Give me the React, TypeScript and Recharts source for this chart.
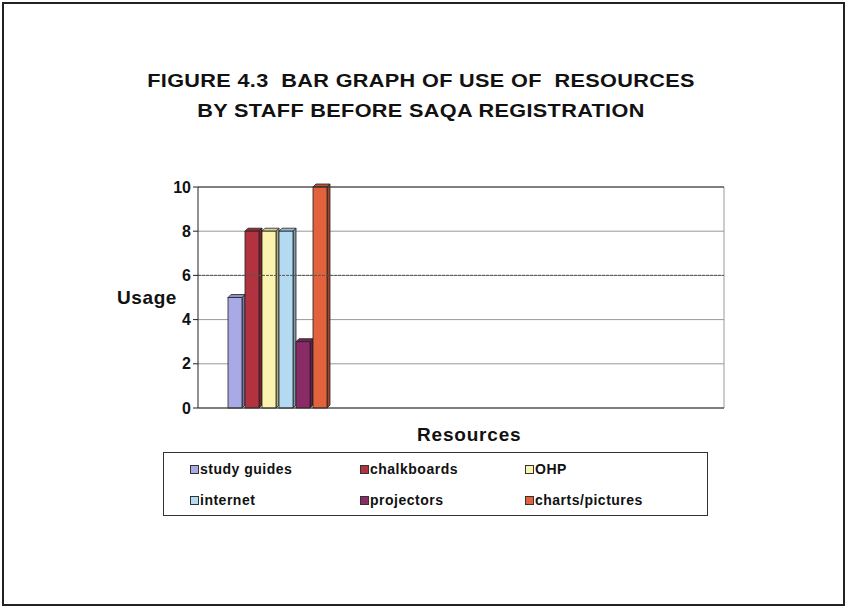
import React from 'react';
import { BarChart, Bar, XAxis, YAxis, CartesianGrid, ReferenceLine } from 'recharts';

const categories = ['Before SAQA registration'];
const seriesNames = ['study guides', 'chalkboards', 'OHP', 'internet', 'projectors', 'charts/pictures'];
const studyGuides = [5];
const chalkboards = [8];
const ohp = [8];
const internet = [8];
const projectors = [3];
const chartsPictures = [10];
const seriesValues = [studyGuides, chalkboards, ohp, internet, projectors, chartsPictures];
const seriesColors = ['#a9a9e6', '#b3323f', '#fbf3b0', '#b4daf2', '#8a2b68', '#e2623d'];
const yTicks = [0, 2, 4, 6, 8, 10];

const data = categories.map((c, i) => {
  const row: Record<string, string | number> = { category: c };
  seriesNames.forEach((name, j) => {
    row[name] = seriesValues[j][i];
  });
  return row;
});

const FONT = '"Liberation Sans", Arial, sans-serif';

const shade = (hex: string, k: number) => {
  const n = parseInt(hex.slice(1), 16);
  const r = Math.round(((n >> 16) & 255) * k);
  const g = Math.round(((n >> 8) & 255) * k);
  const b = Math.round((n & 255) * k);
  return `rgb(${r},${g},${b})`;
};

// simple 3d-ish bar: front face + top + right side
const Bar3D = (props: any) => {
  const { x, y, width, height, fill } = props;
  if (!height || height <= 0) return null;
  const d = 3;
  const w = width - d;
  return (
    <g>
      <polygon
        points={`${x + w},${y} ${x + w + d},${y - d} ${x + w + d},${y + height - d} ${x + w},${y + height}`}
        fill={shade(fill, 0.7)}
        stroke="#222"
        strokeWidth={0.8}
      />
      <polygon
        points={`${x},${y} ${x + d},${y - d} ${x + w + d},${y - d} ${x + w},${y}`}
        fill={shade(fill, 0.85)}
        stroke="#222"
        strokeWidth={0.8}
      />
      <rect x={x} y={y} width={w} height={height} fill={fill} stroke="#222" strokeWidth={0.8} />
    </g>
  );
};

const LegendBox = () => {
  const cols = [190, 360, 525];
  const rows = [461, 492];
  return (
    <div
      style={{
        position: 'absolute',
        left: 163,
        top: 452,
        width: 543,
        height: 62,
        border: '1px solid #333',
      }}
    >
      {seriesNames.map((name, i) => {
        const col = i % 3;
        const row = Math.floor(i / 3);
        return (
          <div
            key={name}
            style={{
              position: 'absolute',
              left: cols[col] - 164,
              top: rows[row] - 453,
              display: 'flex',
              alignItems: 'center',
              fontFamily: FONT,
              fontWeight: 'bold',
              fontSize: 14,
              letterSpacing: 0.5,
              color: '#111',
              whiteSpace: 'nowrap',
            }}
          >
            <span
              style={{
                display: 'inline-block',
                width: 7,
                height: 7,
                background: seriesColors[i],
                border: '1px solid #333',
                marginRight: 1,
              }}
            />
            {name}
          </div>
        );
      })}
    </div>
  );
};

export default function App() {
  return (
    <div style={{ position: 'absolute', left: 0, top: 0, width: 846, height: 607, background: '#fff' }}>
      <div
        style={{
          position: 'absolute',
          left: 2,
          top: 2,
          width: 839,
          height: 600,
          border: '2px solid #222',
        }}
      />
      <div
        style={{
          position: 'absolute',
          left: 0,
          top: 66,
          width: 842,
          textAlign: 'center',
          fontFamily: FONT,
          fontWeight: 'bold',
          fontSize: 19,
          letterSpacing: 0.3,
          lineHeight: '30px',
          color: '#111',
          whiteSpace: 'pre',
          transform: 'scaleX(1.14)',
          transformOrigin: '421px 0',
        }}
      >
        {'FIGURE 4.3  BAR GRAPH OF USE OF  RESOURCES\nBY STAFF BEFORE SAQA REGISTRATION'}
      </div>
      <div
        style={{
          position: 'absolute',
          left: 117,
          top: 287,
          fontFamily: FONT,
          fontWeight: 'bold',
          fontSize: 19,
          letterSpacing: 0.6,
          color: '#111',
        }}
      >
        Usage
      </div>
      <div
        style={{
          position: 'absolute',
          left: 417,
          top: 424,
          fontFamily: FONT,
          fontWeight: 'bold',
          fontSize: 19,
          letterSpacing: 0.8,
          color: '#111',
        }}
      >
        Resources
      </div>
      <div style={{ position: 'absolute', left: 0, top: 0 }}>
        <BarChart
          width={846}
          height={607}
          data={data}
          margin={{ top: 187, right: 122, bottom: 189, left: 148 }}
          barCategoryGap={0}
          barGap={0}
        >
          <CartesianGrid vertical verticalPoints={[724]} stroke="#999" />
          <ReferenceLine y={6} stroke="#555" strokeDasharray="3 1" />
          <ReferenceLine y={10} stroke="#333" />
          <XAxis
            dataKey="category"
            tick={false}
            tickLine={false}
            height={10}
            padding={{ left: 30, right: 393 }}
            axisLine={{ stroke: '#333' }}
          />
          <YAxis
            width={50}
            domain={[0, 10]}
            ticks={yTicks}
            interval={0}
            tickSize={5}
            axisLine={{ stroke: '#222' }}
            tickLine={{ stroke: '#222' }}
            tick={{ fontFamily: FONT, fontWeight: 'bold', fontSize: 16, fill: '#111' }}
          />
          {seriesNames.map((name, i) => (
            <Bar
              key={name}
              dataKey={name}
              fill={seriesColors[i]}
              shape={<Bar3D />}
              isAnimationActive={false}
            />
          ))}
        </BarChart>
      </div>
      <LegendBox />
    </div>
  );
}
